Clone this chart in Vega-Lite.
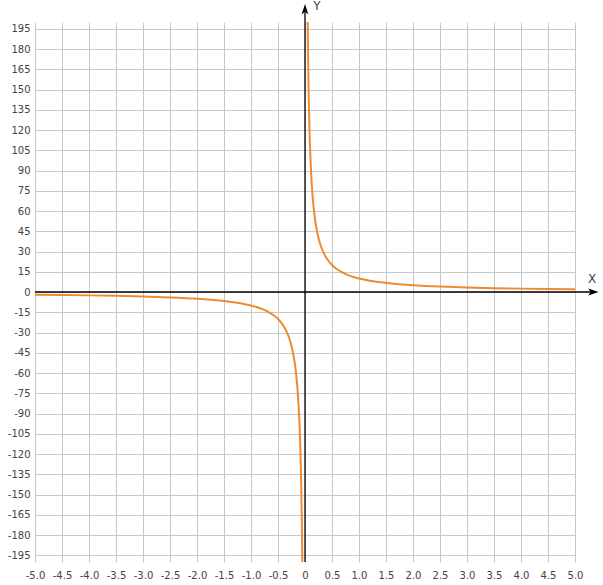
{
  "$schema": "https://vega.github.io/schema/vega-lite/v6.json",
  "width": 540,
  "height": 540,
  "autosize": {"type": "none"},
  "padding": {"left": 35, "top": 22, "right": 28, "bottom": 23},
  "background": "white",
  "config": {
    "view": {"stroke": null},
    "axis": {
      "title": null,
      "domain": false,
      "ticks": false,
      "gridColor": "#c8c8c8",
      "gridWidth": 1,
      "gridOpacity": 1,
      "labelFont": "DejaVu Sans",
      "labelFontSize": 10,
      "labelColor": "#444444",
      "labelOverlap": false
    }
  },
  "datasets": {
    "curve": [
      {"branch": "neg", "x": -5, "y": -2},
      {"branch": "neg", "x": -4.5, "y": -2.222},
      {"branch": "neg", "x": -4, "y": -2.5},
      {"branch": "neg", "x": -3.5, "y": -2.857},
      {"branch": "neg", "x": -3, "y": -3.333},
      {"branch": "neg", "x": -2.5, "y": -4},
      {"branch": "neg", "x": -2, "y": -5},
      {"branch": "neg", "x": -1.8, "y": -5.556},
      {"branch": "neg", "x": -1.6, "y": -6.25},
      {"branch": "neg", "x": -1.4, "y": -7.143},
      {"branch": "neg", "x": -1.2, "y": -8.333},
      {"branch": "neg", "x": -1, "y": -10},
      {"branch": "neg", "x": -0.9, "y": -11.111},
      {"branch": "neg", "x": -0.8, "y": -12.5},
      {"branch": "neg", "x": -0.7, "y": -14.286},
      {"branch": "neg", "x": -0.6, "y": -16.667},
      {"branch": "neg", "x": -0.5, "y": -20},
      {"branch": "neg", "x": -0.4, "y": -25},
      {"branch": "neg", "x": -0.35, "y": -28.571},
      {"branch": "neg", "x": -0.3, "y": -33.333},
      {"branch": "neg", "x": -0.25, "y": -40},
      {"branch": "neg", "x": -0.2, "y": -50},
      {"branch": "neg", "x": -0.18, "y": -55.556},
      {"branch": "neg", "x": -0.16, "y": -62.5},
      {"branch": "neg", "x": -0.14, "y": -71.429},
      {"branch": "neg", "x": -0.12, "y": -83.333},
      {"branch": "neg", "x": -0.1, "y": -100},
      {"branch": "neg", "x": -0.09, "y": -111.111},
      {"branch": "neg", "x": -0.08, "y": -125},
      {"branch": "neg", "x": -0.07, "y": -142.857},
      {"branch": "neg", "x": -0.06, "y": -166.667},
      {"branch": "neg", "x": -0.055, "y": -181.818},
      {"branch": "neg", "x": -0.05, "y": -200},
      {"branch": "pos", "x": 0.05, "y": 200},
      {"branch": "pos", "x": 0.055, "y": 181.818},
      {"branch": "pos", "x": 0.06, "y": 166.667},
      {"branch": "pos", "x": 0.07, "y": 142.857},
      {"branch": "pos", "x": 0.08, "y": 125},
      {"branch": "pos", "x": 0.09, "y": 111.111},
      {"branch": "pos", "x": 0.1, "y": 100},
      {"branch": "pos", "x": 0.12, "y": 83.333},
      {"branch": "pos", "x": 0.14, "y": 71.429},
      {"branch": "pos", "x": 0.16, "y": 62.5},
      {"branch": "pos", "x": 0.18, "y": 55.556},
      {"branch": "pos", "x": 0.2, "y": 50},
      {"branch": "pos", "x": 0.25, "y": 40},
      {"branch": "pos", "x": 0.3, "y": 33.333},
      {"branch": "pos", "x": 0.35, "y": 28.571},
      {"branch": "pos", "x": 0.4, "y": 25},
      {"branch": "pos", "x": 0.5, "y": 20},
      {"branch": "pos", "x": 0.6, "y": 16.667},
      {"branch": "pos", "x": 0.7, "y": 14.286},
      {"branch": "pos", "x": 0.8, "y": 12.5},
      {"branch": "pos", "x": 0.9, "y": 11.111},
      {"branch": "pos", "x": 1, "y": 10},
      {"branch": "pos", "x": 1.2, "y": 8.333},
      {"branch": "pos", "x": 1.4, "y": 7.143},
      {"branch": "pos", "x": 1.6, "y": 6.25},
      {"branch": "pos", "x": 1.8, "y": 5.556},
      {"branch": "pos", "x": 2, "y": 5},
      {"branch": "pos", "x": 2.5, "y": 4},
      {"branch": "pos", "x": 3, "y": 3.333},
      {"branch": "pos", "x": 3.5, "y": 2.857},
      {"branch": "pos", "x": 4, "y": 2.5},
      {"branch": "pos", "x": 4.5, "y": 2.222},
      {"branch": "pos", "x": 5, "y": 2}
    ],
    "hline": [{"x": -5, "x2": 5.33, "y": 0}],
    "vline": [{"x": 0, "y": -200, "y2": 210}],
    "arrows": [
      {"x": 5.34, "y": 0, "dir": "right"},
      {"x": 0, "y": 209.5, "dir": "up"}
    ],
    "names": [
      {"x": 5.315, "y": 9.5, "name": "X"},
      {"x": 0.222, "y": 211.5, "name": "Y"}
    ]
  },
  "layer": [
    {
      "data": {"name": "curve"},
      "mark": {"type": "line", "color": "#ef8a2f", "strokeWidth": 2, "interpolate": "monotone"},
      "encoding": {
        "x": {
          "field": "x", "type": "quantitative",
          "scale": {"domain": [-5, 5], "nice": false, "zero": false},
          "axis": {
            "values": [-5, -4.5, -4, -3.5, -3, -2.5, -2, -1.5, -1, -0.5, 0, 0.5, 1, 1.5, 2, 2.5, 3, 3.5, 4, 4.5, 5],
            "tickCount": 50,
            "labelExpr": "datum.value == 0 ? '0' : replace(format(datum.value, '.1f'), '\u2212', '-')",
            "labelPadding": 8,
            "labelFlush": false
          }
        },
        "y": {
          "field": "y", "type": "quantitative",
          "scale": {"domain": [-200, 200], "nice": false, "zero": false},
          "axis": {
            "values": [-195, -180, -165, -150, -135, -120, -105, -90, -75, -60, -45, -30, -15, 0, 15, 30, 45, 60, 75, 90, 105, 120, 135, 150, 165, 180, 195],
            "tickCount": 50,
            "labelExpr": "'' + datum.value",
            "labelPadding": 5,
            "labelFlush": false
          }
        },
        "detail": {"field": "branch"}
      }
    },
    {
      "data": {"name": "hline"},
      "mark": {"type": "rule", "color": "black", "strokeWidth": 1.3},
      "encoding": {
        "x": {"field": "x", "type": "quantitative"},
        "x2": {"field": "x2"},
        "y": {"field": "y", "type": "quantitative"}
      }
    },
    {
      "data": {"name": "vline"},
      "mark": {"type": "rule", "color": "black", "strokeWidth": 1.3},
      "encoding": {
        "x": {"field": "x", "type": "quantitative"},
        "y": {"field": "y", "type": "quantitative"},
        "y2": {"field": "y2"}
      }
    },
    {
      "data": {"name": "arrows"},
      "mark": {"type": "point", "filled": true, "color": "black", "opacity": 1, "size": 110},
      "encoding": {
        "x": {"field": "x", "type": "quantitative"},
        "y": {"field": "y", "type": "quantitative"},
        "shape": {
          "field": "dir", "type": "nominal", "legend": null,
          "scale": {
            "domain": ["right", "up"],
            "range": ["M1,0L-1,-0.65L-0.5,0L-1,0.65Z", "M0,-1L0.65,1L0,0.5L-0.65,1Z"]
          }
        }
      }
    },
    {
      "data": {"name": "names"},
      "mark": {"type": "text", "font": "DejaVu Sans", "fontSize": 12, "color": "#444444", "align": "center", "baseline": "middle"},
      "encoding": {
        "x": {"field": "x", "type": "quantitative"},
        "y": {"field": "y", "type": "quantitative"},
        "text": {"field": "name"}
      }
    }
  ]
}
